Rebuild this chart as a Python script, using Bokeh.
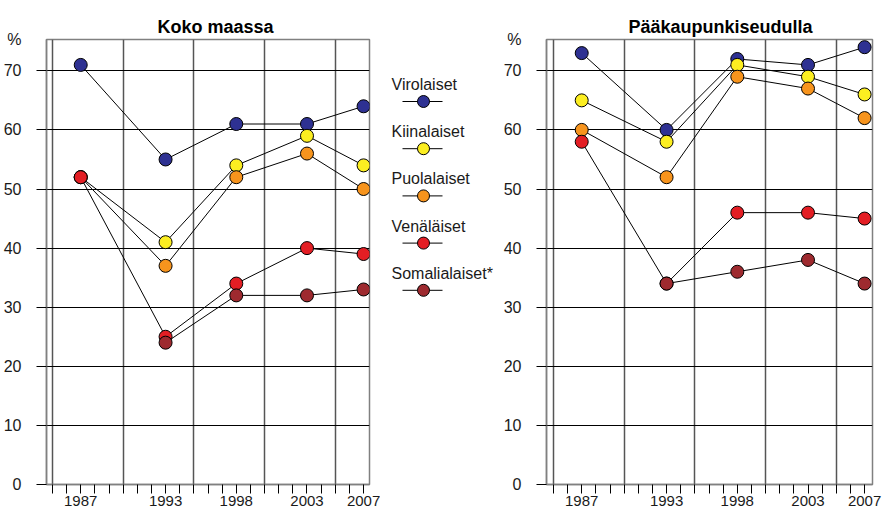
from bokeh.plotting import figure
from bokeh.models import Range1d, FixedTicker, ColumnDataSource
from bokeh.layouts import row
from bokeh.embed import file_html
from bokeh.resources import INLINE
from bokeh.core.properties import value
import numpy as np

years = [1987, 1993, 1998, 2003, 2007]
series_names = ["Virolaiset", "Kiinalaiset", "Puolalaiset", "Venäläiset", "Somalialaiset*"]
colors = ["#2E3192", "#FCEE21", "#F7941D", "#E31E24", "#9E2A2F"]

# Koko maassa
koko_viro = [71, 55, 61, 61, 64]
koko_kiina = [52, 41, 54, 59, 54]
koko_puola = [52, 37, 52, 56, 50]
koko_vena = [52, 25, 34, 40, 39]
koko_somali = [np.nan, 24, 32, 32, 33]

# Pääkaupunkiseudulla
pk_viro = [73, 60, 72, 71, 74]
pk_kiina = [65, 58, 71, 69, 66]
pk_puola = [60, 52, 69, 67, 62]
pk_vena = [58, 34, 46, 46, 45]
pk_somali = [np.nan, 34, 36, 38, 34]

y_ticks = [0, 10, 20, 30, 40, 50, 60, 70]
y_unit = "%"
x_ticks = list(range(1985, 2008))
grid_years = [1985, 1990, 1995, 2000, 2005]

FONT = "Liberation Sans"
Y_TOP = 75.3
FRAME_TOP = 39
FRAME_BOTTOM = 484


def make_panel(title, data, width, border_left, border_right, x0, x1, title_offset):
    p = figure(width=width, height=514, output_backend="svg", toolbar_location=None,
               x_range=Range1d(x0, x1), y_range=Range1d(0, Y_TOP),
               min_border_left=border_left, min_border_right=border_right,
               min_border_top=FRAME_TOP, min_border_bottom=514 - FRAME_BOTTOM)
    p.title.text = title
    p.title.text_font = FONT
    p.title.text_font_size = "18px"
    p.title.text_font_style = "bold"
    p.title.align = "left"
    p.title.vertical_align = "middle"
    p.title.offset = title_offset
    p.title.standoff = 4
    p.title.text_color = "black"
    p.background_fill_color = "white"
    p.border_fill_color = "white"
    p.outline_line_color = "#808080"
    p.outline_line_width = 1.5

    # y axis: labels at major ticks (incl. the unit at the top), tick marks as minor ticks
    ya = p.yaxis[0]
    unit_pos = Y_TOP - 0.05
    ya.ticker = FixedTicker(ticks=y_ticks + [unit_pos], minor_ticks=y_ticks)
    ya.major_label_overrides = {unit_pos: y_unit}
    ya.major_tick_out = 0
    ya.major_tick_in = 0
    ya.minor_tick_out = 10
    ya.minor_tick_in = 0
    ya.minor_tick_line_color = "black"
    ya.axis_line_color = "#808080"
    ya.axis_line_width = 1.5
    ya.major_label_text_font = FONT
    ya.major_label_text_font_size = "16px"
    ya.major_label_text_color = "#1a1a1a"
    ya.major_label_standoff = 15

    # x axis
    xa = p.xaxis[0]
    xa.ticker = FixedTicker(ticks=x_ticks)
    xa.major_label_overrides = {y: (str(y) if y in years else "") for y in x_ticks}
    xa.major_tick_out = 9
    xa.major_tick_in = 0
    xa.minor_tick_out = 0
    xa.axis_line_color = "#808080"
    xa.axis_line_width = 1.5
    xa.major_tick_line_color = "black"
    xa.major_label_text_font = FONT
    xa.major_label_text_font_size = "15px"
    xa.major_label_text_color = "#1a1a1a"
    xa.major_label_standoff = 2

    p.ygrid.ticker = FixedTicker(ticks=y_ticks[1:])
    p.ygrid.grid_line_color = "black"
    p.ygrid.grid_line_width = 1
    p.xgrid.ticker = FixedTicker(ticks=grid_years)
    p.xgrid.grid_line_color = "#555555"
    p.xgrid.grid_line_width = 1.5

    for vals in data:
        p.line(years, vals, line_color="black", line_width=1)
    for vals, c in zip(data, colors):
        p.scatter(years, vals, size=13, fill_color=c, line_color="black", line_width=1)
    return p


left = make_panel("Koko maassa", [koko_viro, koko_kiina, koko_puola, koko_vena, koko_somali],
                  380, 42, 11, 1984.58, 2007.42, 111)
right = make_panel("Pääkaupunkiseudulla", [pk_viro, pk_kiina, pk_puola, pk_vena, pk_somali],
                   389, 43, 17, 1984.51, 2007.56, 82)

# Legend panel (its frame is aligned with the neighbouring plot frames)
lg = figure(width=120, height=514, output_backend="svg", toolbar_location=None,
            x_range=Range1d(0, 120), y_range=Range1d(FRAME_BOTTOM, FRAME_TOP),
            x_axis_location=None, y_axis_location=None,
            min_border=0, title=None)
lg.grid.visible = False
lg.outline_line_color = None
lg.background_fill_color = "white"
lg.border_fill_color = "white"

n = len(series_names)
text_y = [84 + 47.2 * i for i in range(n)]
mark_y = [t + 17 for t in text_y]
src = ColumnDataSource(dict(name=series_names, color=colors, ty=text_y, my=mark_y,
                            tx=[11] * n, mx=[43] * n, x0=[22] * n, x1=[62] * n))
lg.segment(x0="x0", y0="my", x1="x1", y1="my", source=src, line_color="black", line_width=1)
lg.scatter(x="mx", y="my", source=src, size=12, fill_color="color", line_color="black", line_width=1)
lg.text(x="tx", y="ty", text="name", source=src, text_font=value(FONT), text_font_size="16px",
        text_baseline="middle", text_align="left", text_color="#1a1a1a")

layout = row(left, lg, right)
open("out.html", "w").write(file_html(layout, INLINE))
